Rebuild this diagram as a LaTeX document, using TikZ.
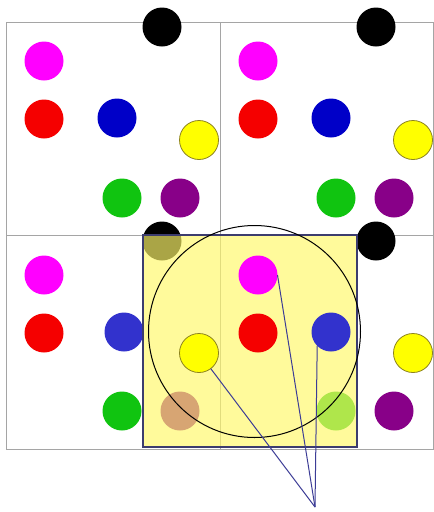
\documentclass[tikz,border=0pt]{standalone}
\definecolor{cmag}{RGB}{255,0,255}
\definecolor{cred}{RGB}{245,0,0}
\definecolor{cblue}{RGB}{0,0,200}
\definecolor{cblueb}{RGB}{50,50,205}
\definecolor{cyel}{RGB}{255,255,0}
\definecolor{cyelb}{RGB}{140,130,30}
\definecolor{cgreen}{RGB}{16,196,16}
\definecolor{cpurp}{RGB}{136,0,136}
\definecolor{cgrid}{RGB}{165,165,165}
\definecolor{crect}{RGB}{255,248,105}
\definecolor{crectb}{RGB}{60,60,110}
\definecolor{cline}{RGB}{60,60,150}
\tikzset{
  dot/.style={circle, minimum size=39pt, inner sep=0pt, outer sep=0pt},
  mag/.style={dot, fill=cmag},
  red/.style={dot, fill=cred},
  blu/.style={dot, fill=cblue},
  blub/.style={dot, fill=cblueb},
  yel/.style={dot, fill=cyel, draw=cyelb, line width=0.8pt},
  grn/.style={dot, fill=cgreen},
  pur/.style={dot, fill=cpurp},
  blk/.style={dot, fill=black},
  gridline/.style={draw=cgrid, line width=1pt},
  ray/.style={draw=cline, line width=1pt},
}
\begin{document}
\begin{tikzpicture}[x=1pt,y=-1pt]
\useasboundingbox (0,0) rectangle (434,512);
\fill[white] (0,0) rectangle (434,512);
% grid
\draw[gridline] (6,22) rectangle (433,449);
\draw[gridline] (220,22) -- (220,449);
\draw[gridline] (6,235) -- (433,235);
% top-left cell
\node[blk] (k1) at (162,27) {};
\node[mag] (m1) at (44,61) {};
\node[red] (r1) at (44,119) {};
\node[blu] (b1) at (117,118) {};
\node[yel] (y1) at (199,140) {};
\node[grn] (g1) at (122,198) {};
\node[pur] (p1) at (180,198) {};
% top-right cell
\node[blk] (k2) at (376,27) {};
\node[mag] (m2) at (258,61) {};
\node[red] (r2) at (258,119) {};
\node[blu] (b2) at (331,118) {};
\node[yel] (y2) at (413,140) {};
\node[grn] (g2) at (336,198) {};
\node[pur] (p2) at (394,198) {};
% bottom-left cell
\node[blk] (k3) at (162,241) {};
\node[mag] (m3) at (44,275) {};
\node[red] (r3) at (44,333) {};
\node[blub] (b3) at (124,332) {};
\node[grn] (g3) at (122,411) {};
\node[pur] (p3) at (180,411) {};
% bottom-right cell (under the window)
\node[blk] (k4) at (376,241) {};
\node[grn] (g4) at (336,411) {};
\node[pur] (p4) at (394,411) {};
\node[yel] (y4) at (413,353) {};
% translucent window
\fill[crect, fill opacity=0.667] (143,235) rectangle (357,447);
\draw[crectb, line width=1.4pt] (143,235) rectangle (357,447);
% circles on top of the window
\node[yel] (y3) at (199,353) {};
\node[mag] (m4) at (258,275) {};
\node[red] (r4) at (258,333) {};
\node[blub] (b4) at (331,332) {};
% search circle
\node[circle, draw=black, line width=1pt, minimum size=212pt, inner sep=0pt] (sc) at (254.5,331.5) {};
% rays
\coordinate (f) at (315,507);
\draw[ray] (y3) -- (f);
\draw[ray] (m4.east) -- (f);
\draw[ray] (b4.south west) -- (f);
\end{tikzpicture}
\end{document}
